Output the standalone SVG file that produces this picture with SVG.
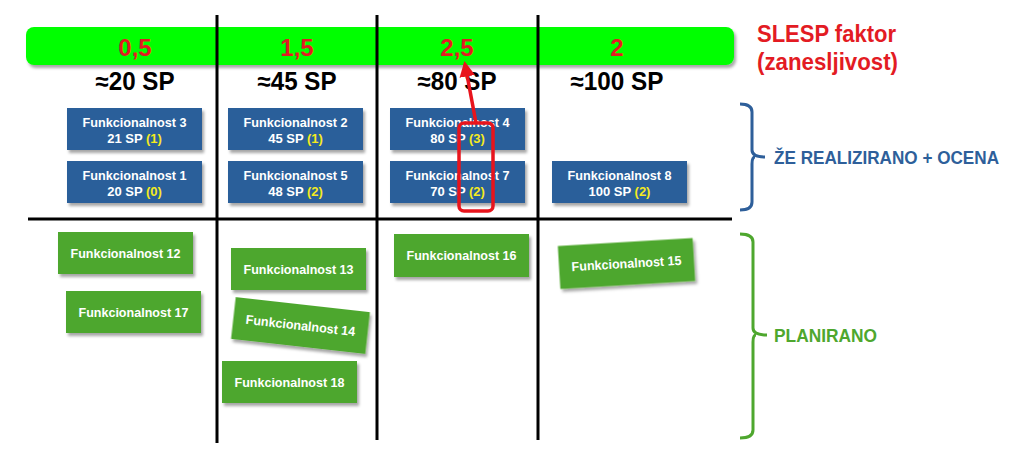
<svg xmlns="http://www.w3.org/2000/svg" width="1024" height="474" viewBox="0 0 1024 474">
<defs>
<filter id="sh" x="-10%" y="-20%" width="130%" height="160%">
<feDropShadow dx="2" dy="3" stdDeviation="1.8" flood-color="#000" flood-opacity="0.35"/>
</filter>
<marker id="ah" viewBox="0 0 10 10" refX="8" refY="5" markerWidth="4.5" markerHeight="4.5" orient="auto" markerUnits="strokeWidth">
<path d="M0,0 L10,5 L0,10 z" fill="#E8141C"/>
</marker>
<style>
text{font-family:"Liberation Sans",Arial,sans-serif;font-weight:bold;}
.blue{fill:#2A5E9A;filter:url(#sh);}
.green{fill:#4EA72E;filter:url(#sh);}
.bt{fill:#fff;font-size:13px;text-anchor:middle;}
.y{fill:#F5EA1E;}
.fac{fill:#E31B23;font-size:24px;text-anchor:middle;}
.sp{fill:#000;font-size:25px;text-anchor:middle;}
.grid{stroke:#000;stroke-width:3;fill:none;}
</style>
</defs>
<rect width="1024" height="474" fill="#fff"/>

<g id="factor-bar">
<rect x="26" y="27" width="708" height="38" rx="8" fill="#00FF00" filter="url(#sh)"/>
</g>

<g id="grid">
<line class="grid" x1="217" y1="15" x2="217" y2="443"/>
<line class="grid" x1="377" y1="15" x2="377" y2="440"/>
<line class="grid" x1="538" y1="15" x2="538" y2="440"/>
<line class="grid" x1="28" y1="219" x2="732" y2="219"/>
</g>

<g id="factors">
<text class="fac" x="135" y="56">0,5</text>
<text class="fac" x="297" y="56">1,5</text>
<text class="fac" x="457" y="56">2,5</text>
<text class="fac" x="617" y="56">2</text>
</g>

<g id="sp-labels">
<text class="sp" x="135" y="90" textLength="79" lengthAdjust="spacingAndGlyphs">≈20 SP</text>
<text class="sp" x="297" y="90" textLength="79" lengthAdjust="spacingAndGlyphs">≈45 SP</text>
<text class="sp" x="457" y="90" textLength="79" lengthAdjust="spacingAndGlyphs">≈80 SP</text>
<text class="sp" x="617" y="90" textLength="93" lengthAdjust="spacingAndGlyphs">≈100 SP</text>
</g>

<g id="slesp-title">
<text x="757" y="42" fill="#E31B23" font-size="24" textLength="139" lengthAdjust="spacingAndGlyphs">SLESP faktor</text>
<text x="757" y="70" fill="#E31B23" font-size="24" textLength="141" lengthAdjust="spacingAndGlyphs">(zanesljivost)</text>
</g>

<g id="f3"><rect class="blue" x="67" y="108" width="135" height="42"/><text class="bt" x="134.5" y="127" textLength="104" lengthAdjust="spacingAndGlyphs">Funkcionalnost 3</text><text class="bt" x="134.5" y="143">21 SP <tspan class="y">(1)</tspan></text></g>
<g id="f1"><rect class="blue" x="67" y="161" width="135" height="42"/><text class="bt" x="134.5" y="180" textLength="104" lengthAdjust="spacingAndGlyphs">Funkcionalnost 1</text><text class="bt" x="134.5" y="196">20 SP <tspan class="y">(0)</tspan></text></g>
<g id="f2"><rect class="blue" x="228" y="108" width="135" height="42"/><text class="bt" x="295.5" y="127" textLength="104" lengthAdjust="spacingAndGlyphs">Funkcionalnost 2</text><text class="bt" x="295.5" y="143">45 SP <tspan class="y">(1)</tspan></text></g>
<g id="f5"><rect class="blue" x="228" y="161" width="135" height="42"/><text class="bt" x="295.5" y="180" textLength="104" lengthAdjust="spacingAndGlyphs">Funkcionalnost 5</text><text class="bt" x="295.5" y="196">48 SP <tspan class="y">(2)</tspan></text></g>
<g id="f4"><rect class="blue" x="390" y="108" width="135" height="42"/><text class="bt" x="457.5" y="127" textLength="104" lengthAdjust="spacingAndGlyphs">Funkcionalnost 4</text><text class="bt" x="457.5" y="143">80 SP <tspan class="y">(3)</tspan></text></g>
<g id="f7"><rect class="blue" x="390" y="161" width="135" height="42"/><text class="bt" x="457.5" y="180" textLength="104" lengthAdjust="spacingAndGlyphs">Funkcionalnost 7</text><text class="bt" x="457.5" y="196">70 SP <tspan class="y">(2)</tspan></text></g>
<g id="f8"><rect class="blue" x="552" y="161" width="135" height="42"/><text class="bt" x="619.5" y="180" textLength="104" lengthAdjust="spacingAndGlyphs">Funkcionalnost 8</text><text class="bt" x="619.5" y="196">100 SP <tspan class="y">(2)</tspan></text></g>

<g id="f12"><rect class="green" x="58" y="232" width="135" height="42"/><text class="bt" x="125.5" y="258" textLength="110" lengthAdjust="spacingAndGlyphs">Funkcionalnost 12</text></g>
<g id="f17"><rect class="green" x="66" y="291" width="135" height="42"/><text class="bt" x="133.5" y="317" textLength="110" lengthAdjust="spacingAndGlyphs">Funkcionalnost 17</text></g>
<g id="f13"><rect class="green" x="231" y="248" width="135" height="42"/><text class="bt" x="298.5" y="274" textLength="110" lengthAdjust="spacingAndGlyphs">Funkcionalnost 13</text></g>
<g id="f14" transform="translate(300.5,325.5) rotate(6.4)"><rect class="green" x="-67.5" y="-21" width="135" height="42"/><text class="bt" x="0" y="4.5" textLength="110" lengthAdjust="spacingAndGlyphs">Funkcionalnost 14</text></g>
<g id="f18"><rect class="green" x="222" y="361" width="135" height="42"/><text class="bt" x="289.5" y="387" textLength="110" lengthAdjust="spacingAndGlyphs">Funkcionalnost 18</text></g>
<g id="f16"><rect class="green" x="394" y="234" width="135" height="43"/><text class="bt" x="461.5" y="260" textLength="110" lengthAdjust="spacingAndGlyphs">Funkcionalnost 16</text></g>
<g id="f15" transform="translate(626.5,263.5) rotate(-3.4)"><rect class="green" x="-67.5" y="-21.5" width="135" height="43"/><text class="bt" x="0" y="4.5" textLength="110" lengthAdjust="spacingAndGlyphs">Funkcionalnost 15</text></g>

<g id="highlight">
<rect x="459" y="123" width="34" height="88" rx="5" fill="none" stroke="#E8141C" stroke-width="3.5"/>
</g>

<g id="connectors">
<line x1="476" y1="123" x2="465" y2="64" stroke="#E8141C" stroke-width="3.5" marker-end="url(#ah)"/>
</g>

<g id="brace-realized">
<path d="M740,104 Q752,104 752,112 L752,150 Q752,157 765,157 M755,157 Q752,157 752,164 L752,202 Q752,210 740,210" fill="none" stroke="#2E5F9A" stroke-width="3"/>
<text x="774" y="164" fill="#2E5F9A" font-size="19" textLength="225" lengthAdjust="spacingAndGlyphs">ŽE REALIZIRANO + OCENA</text>
</g>

<g id="brace-planned">
<path d="M740,234 Q753,234 753,242 L753,328 Q753,335 767,335 M756,335 Q753,335 753,342 L753,430 Q753,438 740,438" fill="none" stroke="#4EA72E" stroke-width="3"/>
<text x="774" y="342" fill="#4EA72E" font-size="18" textLength="103" lengthAdjust="spacingAndGlyphs">PLANIRANO</text>
</g>
</svg>
